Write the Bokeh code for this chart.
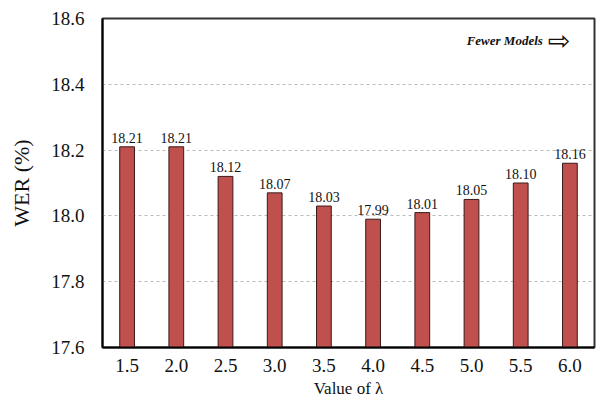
from bokeh.plotting import figure
from bokeh.models import ColumnDataSource, Range1d, FixedTicker, Label, LabelSet, NumeralTickFormatter
from bokeh.embed import file_html
from bokeh.resources import INLINE

lambdas = ["1.5", "2.0", "2.5", "3.0", "3.5", "4.0", "4.5", "5.0", "5.5", "6.0"]
wer = [18.21, 18.21, 18.12, 18.07, 18.03, 17.99, 18.01, 18.05, 18.10, 18.16]
y_ticks = [17.6, 17.8, 18.0, 18.2, 18.4, 18.6]

src = ColumnDataSource(dict(x=lambdas, y=wer, lab=["%.2f" % v for v in wer]))

p = figure(width=596, height=400, x_range=lambdas, y_range=Range1d(17.6, 18.6),
           output_backend="svg", toolbar_location=None,
           min_border_left=102, min_border_right=2, min_border_top=18, min_border_bottom=48)

p.vbar(x="x", top="y", bottom=17.6, width=0.3, source=src,
       fill_color="#C0504D", line_color="#3a1a19", line_width=1)

labels = LabelSet(x="x", y="y", text="lab", source=src, text_align="center",
                  text_baseline="bottom", y_offset=4, text_font="Liberation Serif",
                  text_font_size="14px", text_color="#111111")
p.add_layout(labels)

p.yaxis.ticker = FixedTicker(ticks=y_ticks)
p.yaxis.formatter = NumeralTickFormatter(format="0.0")

for ax in (p.xaxis, p.yaxis):
    ax.major_tick_line_color = None
    ax.minor_tick_line_color = None
    ax.axis_line_color = "black"
    ax.axis_line_width = 2
    ax.major_label_text_font = "Liberation Serif"
    ax.major_label_text_font_size = "19px"
    ax.major_label_text_color = "#111111"
    ax.axis_label_text_font = "Liberation Serif"
    ax.axis_label_text_font_style = "normal"
    ax.axis_label_text_color = "#111111"

p.xaxis.axis_label = "Value of λ"
p.xaxis.axis_label_text_font_size = "17px"
p.xaxis.major_label_standoff = 5
p.xaxis.axis_label_standoff = 4
p.yaxis.axis_label = "WER (%)"
p.yaxis.axis_label_text_font_size = "22px"
p.yaxis.major_label_standoff = 12
p.yaxis.axis_label_standoff = 14

p.xgrid.grid_line_color = None
p.ygrid.grid_line_color = "#bbbbbb"
p.ygrid.grid_line_dash = "3 3"
p.ygrid.grid_line_width = 1

p.outline_line_color = "#333333"
p.outline_line_width = 2
p.outline_line_alpha = 1

p.add_layout(Label(x=8.95, y=18.532, text="Fewer Models",
                   text_font="Liberation Serif", text_font_style="bold italic",
                   text_font_size="13px", text_align="right", text_baseline="middle",
                   text_color="#111111"))
p.add_layout(Label(x=9.05, y=18.532, text="⇨",
                   text_font="DejaVu Sans", text_font_size="27px", text_align="left",
                   text_baseline="middle", text_color="#111111"))

p.background_fill_color = "white"
p.border_fill_color = "white"

open("out.html", "w").write(file_html(p, INLINE))
